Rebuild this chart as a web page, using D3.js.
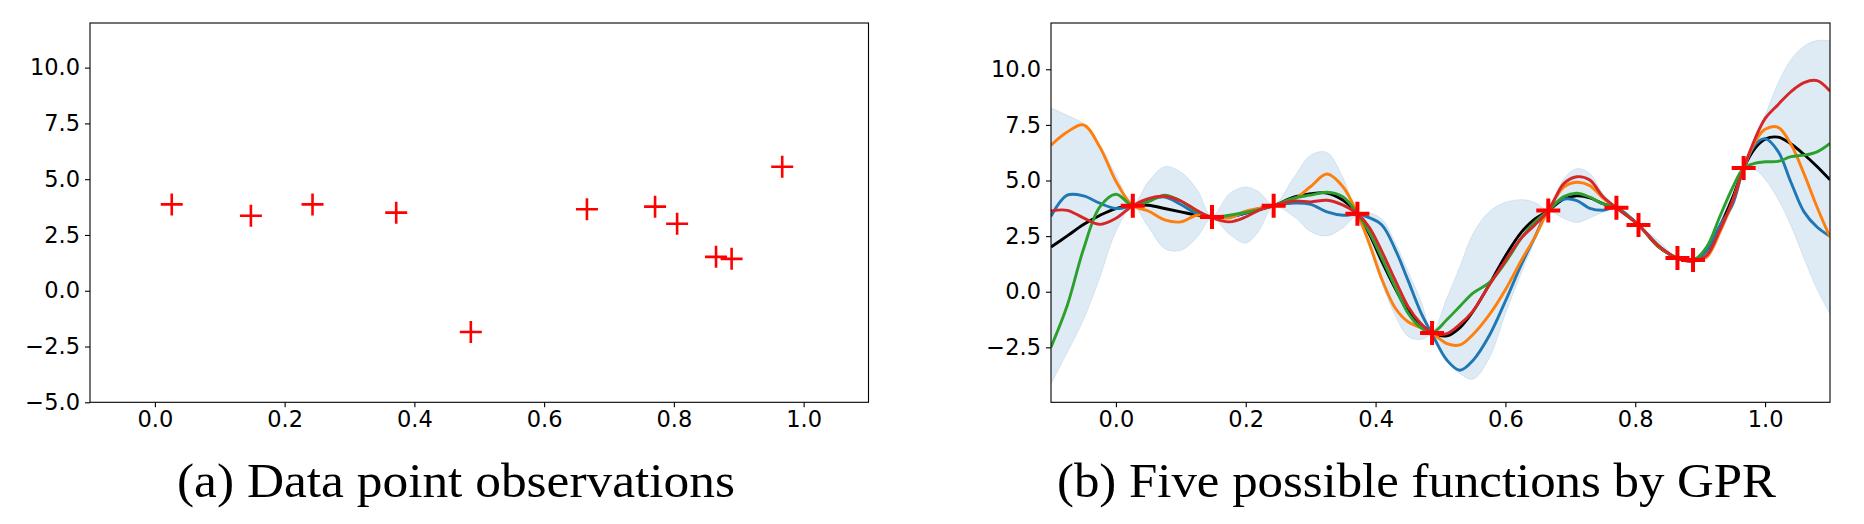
<!DOCTYPE html>
<html>
<head>
<meta charset="utf-8">
<script src="https://cdn.jsdelivr.net/npm/d3@7"></script>
<style>
  html, body { margin: 0; padding: 0; background: #fff; }
  svg { display: block; }
</style>
</head>
<body>
<svg id="chart" width="1864" height="524"></svg>
<script>
// ---------------- data ----------------
const obsX = [0.026, 0.148, 0.243, 0.372, 0.487, 0.666, 0.771, 0.805, 0.865, 0.889, 0.967];
const obsY = [3.87, 3.36, 3.87, 3.50, -1.85, 3.65, 3.77, 3.00, 1.52, 1.43, 5.56];

const gridX = [-0.1, -0.075, -0.05, -0.025, 0.0, 0.026, 0.05, 0.075, 0.1, 0.125, 0.148, 0.175, 0.2, 0.22, 0.243,
  0.275, 0.3, 0.325, 0.35, 0.372, 0.39, 0.41, 0.43, 0.45, 0.47, 0.487, 0.51, 0.53, 0.55, 0.575, 0.6, 0.625, 0.645,
  0.666, 0.69, 0.71, 0.73, 0.75, 0.771, 0.805, 0.835, 0.865, 0.889, 0.91, 0.93, 0.95, 0.967, 0.985, 1.0, 1.02,
  1.04, 1.06, 1.08, 1.1];

const meanY = [2.01, 2.51, 3.02, 3.43, 3.74, 3.87, 3.89, 3.74, 3.59, 3.44, 3.36, 3.38, 3.54, 3.69, 3.87, 4.26, 4.41,
  4.44, 4.11, 3.50, 2.61, 1.34, 0.16, -0.87, -1.46, -1.85, -1.98, -1.61, -0.89, 0.32, 1.61, 2.69, 3.26, 3.65, 4.17,
  4.31, 4.22, 3.96, 3.77, 3.00, 2.04, 1.52, 1.43, 1.86, 2.91, 4.23, 5.56, 6.47, 6.86, 6.95, 6.64, 6.17, 5.63, 5.03];

const sampleBlue = [3.39, 4.34, 4.31, 3.98, 3.74, 3.87, 4.11, 4.26, 3.92, 3.51, 3.36, 3.36, 3.54, 3.74, 3.87, 3.99,
  3.93, 3.59, 3.44, 3.48, 3.33, 2.99, 1.92, 0.51, -0.95, -1.90, -3.08, -3.53, -3.09, -1.98, -0.42, 1.25, 2.43, 3.65,
  4.16, 4.10, 3.75, 3.66, 3.77, 3.00, 2.09, 1.50, 1.41, 1.86, 2.96, 3.93, 5.56, 6.62, 6.88, 6.31, 4.91, 3.59, 2.91, 2.49];

const sampleOrange = [6.59, 7.18, 7.50, 6.52, 4.97, 3.87, 3.63, 3.23, 3.14, 3.44, 3.36, 3.32, 3.62, 3.74, 3.87, 4.17,
  4.73, 5.29, 4.71, 3.50, 2.19, 0.54, -0.72, -1.35, -1.62, -1.85, -2.33, -2.39, -1.92, -1.04, 0.09, 1.44, 2.43, 3.65,
  4.70, 4.92, 4.77, 4.22, 3.77, 3.00, 2.06, 1.52, 1.43, 1.56, 2.66, 4.08, 5.56, 6.76, 7.30, 7.39, 6.62, 5.30, 3.81, 2.46];

const sampleGreen = [-2.49, -0.62, 1.91, 3.80, 4.38, 3.87, 4.05, 4.34, 4.08, 3.62, 3.36, 3.44, 3.57, 3.69, 3.87, 4.22,
  4.34, 4.47, 4.26, 3.50, 2.70, 1.49, 0.23, -0.96, -1.62, -1.85, -1.25, -0.65, -0.06, 0.41, 1.32, 2.43, 3.12, 3.65,
  4.28, 4.43, 4.25, 3.96, 3.77, 3.00, 2.09, 1.50, 1.41, 2.01, 3.36, 4.68, 5.56, 5.78, 5.84, 5.86, 6.07, 6.14, 6.29, 6.67];

const sampleRed = [3.63, 3.66, 3.32, 3.03, 3.30, 3.87, 4.19, 4.29, 4.08, 3.65, 3.32, 3.14, 3.36, 3.66, 3.87, 4.08,
  4.04, 4.11, 3.89, 3.50, 2.91, 1.79, 0.53, -0.66, -1.44, -1.85, -1.88, -1.46, -0.87, 0.29, 1.40, 2.43, 2.99, 3.65,
  4.86, 5.17, 5.02, 4.28, 3.77, 3.00, 2.09, 1.50, 1.38, 1.64, 2.76, 4.08, 5.56, 6.91, 7.78, 8.41, 9.00, 9.40, 9.49, 9.02];

const bandUpper = [8.27, 7.93, 7.55, 6.58, 5.26, 3.92, 4.95, 5.62, 5.38, 4.59, 3.41, 4.41, 4.71, 4.50, 3.92, 5.18,
  6.14, 6.26, 5.12, 3.55, 3.55, 3.26, 2.22, 0.92, -0.42, -1.80, -0.27, 1.14, 2.61, 3.60, 4.02, 4.14, 4.02, 3.70,
  5.08, 5.53, 5.32, 4.43, 3.82, 3.05, 2.31, 1.56, 1.46, 2.10, 3.45, 4.80, 5.61, 7.00, 7.93, 9.38, 10.44, 11.04, 11.29, 11.29];

const bandLower = [-4.14, -2.73, -1.26, 0.63, 2.70, 3.82, 2.91, 1.94, 1.86, 2.45, 3.30, 2.58, 2.19, 2.72, 3.82, 3.36,
  2.70, 2.51, 2.88, 3.40, 2.05, 0.35, -1.05, -2.01, -2.15, -1.97, -3.14, -3.69, -3.93, -2.99, -0.99, 0.87, 2.27, 3.60,
  3.29, 3.11, 3.32, 3.56, 3.72, 2.95, 1.97, 1.45, 1.34, 1.50, 2.55, 3.85, 5.50, 5.47, 5.06, 4.16, 2.96, 1.50, 0.11, -0.99];

const xTicks = [0.0, 0.2, 0.4, 0.6, 0.8, 1.0];
const yTicksLeft = [-5.0, -2.5, 0.0, 2.5, 5.0, 7.5, 10.0];
const yTicksRight = [-2.5, 0.0, 2.5, 5.0, 7.5, 10.0];
const captions = ["(a) Data point observations", "(b) Five possible functions by GPR"];

// ---------------- drawing ----------------
const svg = d3.select("#chart");
svg.append("rect").attr("width", 1864).attr("height", 524).attr("fill", "#fff");

const fmt = v => d3.format(".1f")(v).replace("-", "\u2212");

function panel(opts) {
  const x = d3.scaleLinear().domain([-0.1, 1.1]).range([opts.left, opts.right]);
  const y = d3.scaleLinear().domain(opts.yDomain).range([opts.bottom, opts.top]);
  const g = svg.append("g");
  const plot = g.append("g");

  const id = "clip" + opts.name;
  svg.append("clipPath").attr("id", id).append("rect")
    .attr("x", opts.left).attr("y", opts.top)
    .attr("width", opts.right - opts.left).attr("height", opts.bottom - opts.top);
  plot.attr("clip-path", `url(#${id})`);

  const xAxis = d3.axisBottom(x).tickValues(xTicks).tickFormat(fmt).tickSize(5).tickPadding(4);
  const yAxis = d3.axisLeft(y).tickValues(opts.yTicks).tickFormat(fmt).tickSize(5).tickPadding(5);
  const gx = g.append("g").attr("transform", `translate(0,${opts.bottom})`).call(xAxis);
  const gy = g.append("g").attr("transform", `translate(${opts.left},0)`).call(yAxis);
  [gx, gy].forEach(a => {
    a.select(".domain").remove();
    a.selectAll("text").attr("font-family", "DejaVu Sans").attr("font-size", 22.5).attr("fill", "#000");
    a.selectAll("line").attr("stroke", "#000").attr("stroke-width", 1.1);
  });
  gx.selectAll("text").attr("dy", "0.71em");

  g.append("rect")
    .attr("x", opts.left).attr("y", opts.top)
    .attr("width", opts.right - opts.left).attr("height", opts.bottom - opts.top)
    .attr("fill", "none").attr("stroke", "#000").attr("stroke-width", 1.1);

  g.append("text")
    .attr("x", opts.capX).attr("y", 497)
    .attr("font-family", "Liberation Serif, Times New Roman, serif")
    .attr("font-size", 49)
    .attr("textLength", opts.capW).attr("lengthAdjust", "spacingAndGlyphs")
    .attr("fill", "#000")
    .text(opts.caption);

  return { x, y, plot };
}

function crosses(p, size, width) {
  const h = size / 2;
  const sel = p.plot.append("g").selectAll("g").data(d3.zip(obsX, obsY)).join("g")
    .attr("transform", d => `translate(${p.x(d[0])},${p.y(d[1])})`);
  sel.append("line").attr("x1", -h).attr("x2", h).attr("y1", 0).attr("y2", 0)
    .attr("stroke", "#ff0000").attr("stroke-width", width);
  sel.append("line").attr("x1", 0).attr("x2", 0).attr("y1", -h).attr("y2", h)
    .attr("stroke", "#ff0000").attr("stroke-width", width);
}

// Panel (a)
const pa = panel({
  name: "a", left: 90, right: 868.5, top: 23, bottom: 402.3,
  yDomain: [-5, 12], yTicks: yTicksLeft, caption: captions[0], capX: 177, capW: 558
});
crosses(pa, 22, 2.6);

// Panel (b)
const pb = panel({
  name: "b", left: 1051, right: 1830, top: 23, bottom: 402.3,
  yDomain: [-4.97, 12.08], yTicks: yTicksRight, caption: captions[1], capX: 1057, capW: 719
});

const curve = d3.curveCatmullRom.alpha(0.5);
const band = d3.area()
  .x((d, i) => pb.x(gridX[i]))
  .y0((d, i) => pb.y(bandLower[i]))
  .y1((d, i) => pb.y(bandUpper[i]))
  .curve(curve);
pb.plot.append("path").datum(gridX).attr("d", band)
  .attr("fill", "#1f77b4").attr("fill-opacity", 0.15)
  .attr("stroke", "#1f77b4").attr("stroke-opacity", 0.12).attr("stroke-width", 1);

const line = d3.line().x((d, i) => pb.x(gridX[i])).y(d => pb.y(d)).curve(curve);
const series = [
  { v: meanY, c: "#000000" },
  { v: sampleBlue, c: "#1f77b4" },
  { v: sampleOrange, c: "#ff7f0e" },
  { v: sampleGreen, c: "#2ca02c" },
  { v: sampleRed, c: "#d62728" }
];
series.forEach(s => {
  pb.plot.append("path").datum(s.v).attr("d", line)
    .attr("fill", "none").attr("stroke", s.c).attr("stroke-width", 2.9)
    .attr("stroke-linejoin", "round");
});
crosses(pb, 24, 4);
</script>
</body>
</html>
